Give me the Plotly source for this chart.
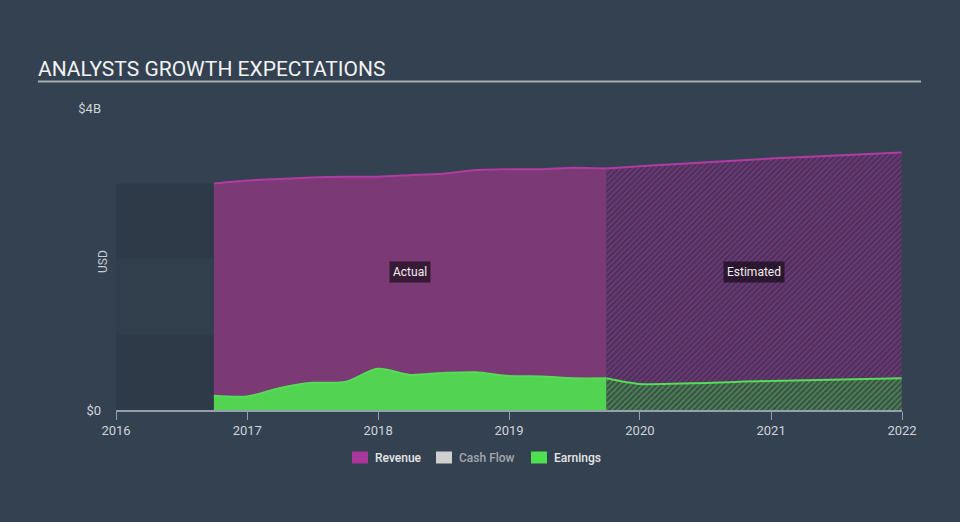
import plotly.graph_objects as go
import pandas as pd

# ---- data (USD) ----
actual_dates = ["2016-09-30", "2016-12-31", "2017-03-31", "2017-06-30", "2017-09-30",
                "2017-12-31", "2018-03-31", "2018-06-30", "2018-09-30", "2018-12-31",
                "2019-03-31", "2019-06-30", "2019-09-30"]
revenue_actual = [3.00e9, 3.04e9, 3.06e9, 3.08e9, 3.09e9, 3.09e9, 3.11e9, 3.13e9,
                  3.18e9, 3.19e9, 3.19e9, 3.21e9, 3.20e9]
earnings_actual = [0.19e9, 0.18e9, 0.29e9, 0.36e9, 0.37e9, 0.545e9, 0.465e9, 0.49e9,
                   0.50e9, 0.45e9, 0.445e9, 0.42e9, 0.42e9]

est_dates = ["2019-09-30", "2019-12-31", "2020-12-31", "2021-12-31"]
revenue_est = [3.20e9, 3.23e9, 3.33e9, 3.41e9]
earnings_est = [0.42e9, 0.345e9, 0.385e9, 0.42e9]

y_tickvals = [0, 4e9]
y_ticktext = ["$0", "$4B"]
x_tickvals = ["2016-01-01", "2017-01-01", "2018-01-01", "2019-01-01",
              "2020-01-01", "2021-01-01", "2022-01-01"]
x_ticktext = ["2016", "2017", "2018", "2019", "2020", "2021", "2022"]
band_edges = [0, 1e9, 2e9, 3e9]

legend_items = [("Revenue", "#a8399b", "#e6e6e6"),
                ("Cash Flow", "#d0d0d0", "#a3a8ae"),
                ("Earnings", "#4fe04f", "#e6e6e6")]

# ---- style ----
BG = "#334151"
REV_LINE = "#b23ba3"
REV_FILL = "#7b3a76"
EARN_LINE = "#55dd55"
EARN_FILL = "#52d452"
W, H = 960, 522
L, R, T, B = 116, 58, 108, 112
PW, PH = W - L - R, H - T - B


def px_to_paper_x(px):
    return (px - L) / PW


def px_to_paper_y(py):
    return (H - B - py) / PH


fig = go.Figure()

# actual areas
fig.add_trace(go.Scatter(x=actual_dates, y=revenue_actual, mode="lines",
                         line=dict(color=REV_LINE, width=2, shape="spline", smoothing=0.6),
                         fill="tozeroy", fillcolor=REV_FILL, hoverinfo="skip"))
fig.add_trace(go.Scatter(x=est_dates, y=revenue_est, mode="lines",
                         line=dict(color=REV_LINE, width=2, shape="spline", smoothing=0.6),
                         fill="tozeroy", fillcolor="#48325a",
                         fillpattern=dict(shape="/", size=4, solidity=0.4,
                                          fgcolor="#a23c96", bgcolor="#48325a"),
                         hoverinfo="skip"))
fig.add_trace(go.Scatter(x=actual_dates, y=earnings_actual, mode="lines",
                         line=dict(color=EARN_LINE, width=2, shape="spline", smoothing=0.8),
                         fill="tozeroy", fillcolor=EARN_FILL, hoverinfo="skip"))
fig.add_trace(go.Scatter(x=est_dates, y=earnings_est, mode="lines",
                         line=dict(color=EARN_LINE, width=2, shape="spline", smoothing=0.6),
                         fill="tozeroy", fillcolor="#3e4e4a",
                         fillpattern=dict(shape="/", size=4, solidity=0.4,
                                          fgcolor="#55cc55", bgcolor="#3e4e4a"),
                         hoverinfo="skip"))

shapes = []
# dark bands before the first data point
band_colors = ["#2e3a48", "#313e4c", "#2e3a48"]
for i in range(len(band_edges) - 1):
    shapes.append(dict(type="rect", xref="x", yref="y", x0=x_tickvals[0], x1=actual_dates[0],
                       y0=band_edges[i], y1=band_edges[i + 1], fillcolor=band_colors[i],
                       line=dict(width=0), layer="below"))
# title underline
shapes.append(dict(type="line", xref="paper", yref="paper",
                   x0=px_to_paper_x(38), x1=px_to_paper_x(921),
                   y0=px_to_paper_y(81.5), y1=px_to_paper_y(81.5),
                   line=dict(color="#a9adb2", width=2)))

annotations = []
# region labels
d_act = pd.to_datetime(actual_dates)
d_est = pd.to_datetime(est_dates)
mid_act = d_act[0] + (d_act[-1] - d_act[0]) / 2
mid_est = d_est[0] + (d_est[-1] - d_est[0]) / 2
for label, xm in (("Actual", mid_act), ("Estimated", mid_est)):
    annotations.append(dict(x=xm, y=px_to_paper_y(272), xref="x", yref="paper",
                            xanchor="center", yanchor="middle",
                            text=label, showarrow=False,
                            font=dict(family="Roboto", size=12, color="#f0f0f0"),
                            bgcolor="rgba(15,5,15,0.62)", borderpad=3))
# USD axis label
annotations.append(dict(x=px_to_paper_x(103), y=px_to_paper_y(262), xref="paper", yref="paper",
                        xanchor="center", yanchor="middle",
                        text="USD", textangle=-90, showarrow=False,
                        font=dict(family="Roboto", size=12, color="#c8ccd0")))

# manual legend
sw_x = [352, 436, 531]
for (name, sw, tc), x0 in zip(legend_items, sw_x):
    shapes.append(dict(type="rect", xref="paper", yref="paper",
                       x0=px_to_paper_x(x0), x1=px_to_paper_x(x0 + 16),
                       y0=px_to_paper_y(463.5), y1=px_to_paper_y(451.5),
                       fillcolor=sw, line=dict(width=0)))
    annotations.append(dict(x=px_to_paper_x(x0 + 21), y=px_to_paper_y(458),
                            xref="paper", yref="paper", xanchor="left", yanchor="middle",
                            text=name, showarrow=False,
                            font=dict(family="Roboto", size=12, color=tc, weight=500)))

fig.update_layout(
    width=W, height=H,
    margin=dict(l=L, r=R, t=T, b=B),
    paper_bgcolor=BG, plot_bgcolor=BG,
    showlegend=False,
    title=dict(text="ANALYSTS GROWTH EXPECTATIONS", xref="container", yref="container",
               x=38 / W, xanchor="left", y=(H - 69) / H, yanchor="middle",
               font=dict(family="Roboto", size=21, color="#f2f2f2")),
    xaxis=dict(type="date", range=[x_tickvals[0], x_tickvals[-1]],
               tickvals=x_tickvals, ticktext=x_ticktext,
               showgrid=False, zeroline=False,
               showline=True, linecolor="#95a0ac", linewidth=1.5,
               ticks="outside", ticklen=8, tickcolor="#95a0ac", tickwidth=1,
               tickfont=dict(family="Roboto", size=13, color="#d0d4d8")),
    yaxis=dict(range=[0, 4e9], tickvals=y_tickvals, ticktext=y_ticktext,
               showgrid=False, zeroline=False, showline=False, ticks="",
               ticklabelstandoff=14,
               tickfont=dict(family="Roboto", size=13, color="#d0d4d8")),
    shapes=shapes, annotations=annotations,
)

fig.write_html("out.html")
